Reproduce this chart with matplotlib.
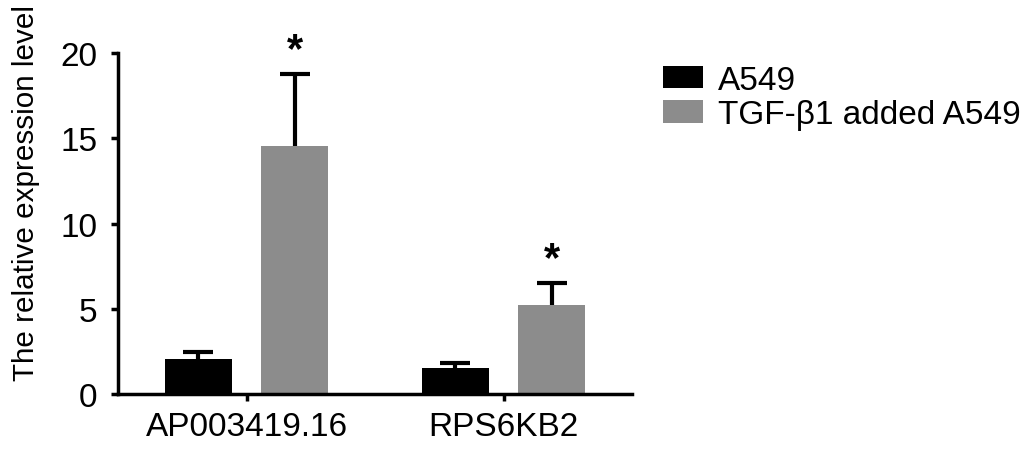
import matplotlib.pyplot as plt
import numpy as np

genes = ['AP003419.16', 'RPS6KB2']
series = ['A549', 'TGF-β1 added A549']
a549 = [2.05, 1.52]
a549_err = [0.4, 0.28]
tgf = [14.55, 5.2]
tgf_err = [4.2, 1.3]
colors = ['#000000', '#8c8c8c']

plt.rcParams['font.family'] = ['Liberation Sans', 'DejaVu Sans']

fig = plt.figure(figsize=(10.3, 4.52), dpi=100)
ax = fig.add_axes([0.1146, 0.1261, 0.4990, 0.7544])

x = np.arange(len(genes))
w = 0.262
off = 0.1875
ekw = dict(ecolor='black', elinewidth=3, capsize=11, capthick=3)
b1 = ax.bar(x - off, a549, w, color=colors[0], label=series[0],
            yerr=[[0, 0], a549_err], error_kw=ekw)
b2 = ax.bar(x + off, tgf, w, color=colors[1], label=series[1],
            yerr=[[0, 0], tgf_err], error_kw=ekw)
# only the upper cap is shown
for b in (b1, b2):
    b.errorbar.lines[1][0].set_visible(False)

# significance stars
for xi, v, e in zip(x, tgf, tgf_err):
    ax.annotate('*', (xi + off, v + e), xytext=(0, 3), textcoords='offset points',
                ha='center', va='bottom', fontsize=30, fontweight='bold')

ax.set_xlim(-0.5, 1.5)
ax.set_ylim(0, 20)
ax.set_yticks([0, 5, 10, 15, 20])
ax.set_xticks(x)
ax.set_xticklabels(genes)
ax.set_ylabel('The relative expression level', fontsize=21.3)
ax.yaxis.set_label_coords(-0.152, 0.592)
ax.tick_params(labelsize=24, width=2.5, length=5)
ax.tick_params(axis='y', pad=10)
ax.tick_params(axis='x', pad=7)
for s in ['top', 'right']:
    ax.spines[s].set_visible(False)
for s in ['left', 'bottom']:
    ax.spines[s].set_linewidth(2.5)

ax.legend(loc='upper left', bbox_to_anchor=(1.06, 0.966), frameon=False, fontsize=24,
          borderpad=0, borderaxespad=0,
          handlelength=1.2, handleheight=0.67, handletextpad=0.45, labelspacing=0.1)

fig.savefig('out.png', dpi=100)
